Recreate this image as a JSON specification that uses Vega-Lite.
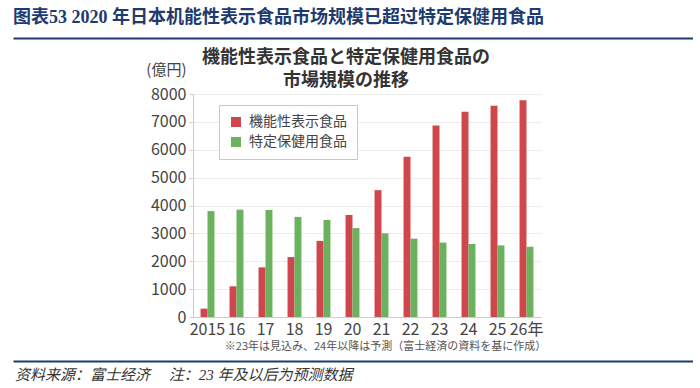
{
  "$schema": "https://vega.github.io/schema/vega-lite/v6.json",
  "background": "white",
  "padding": {"left": 10, "top": 8, "right": 0, "bottom": 0},
  "spacing": 7,
  "resolve": {"scale": {"color": "independent"}, "legend": {"color": "independent"}},
  "config": {"view": {"stroke": null}},
  "vconcat": [
    {
      "width": 680,
      "height": 1,
      "title": {
        "text": "图表53  2020 年日本机能性表示食品市场规模已超过特定保健用食品",
        "anchor": "start",
        "frame": "group",
        "dx": 0,
        "offset": -9,
        "baseline": "bottom",
        "fontSize": 18,
        "font": "Liberation Serif, Noto Sans CJK SC",
        "fontWeight": "bold",
        "color": "#1e3a6e"
      },
      "data": {"values": [{"v": 0}]},
      "mark": {"type": "point", "opacity": 0},
      "encoding": {
        "x": {
          "field": "v",
          "type": "quantitative",
          "scale": {"domain": [0, 1]},
          "axis": {
            "orient": "top",
            "domain": true,
            "domainColor": "#1e3a6e",
            "domainWidth": 2,
            "ticks": false,
            "labels": false,
            "grid": false,
            "title": null
          }
        }
      }
    },
    {
      "spacing": 0,
      "resolve": {"scale": {"color": "independent"}, "legend": {"color": "independent"}},
      "hconcat": [
        {
          "width": 132,
          "height": 1,
          "data": {"values": [{"v": 0}]},
          "mark": {"type": "point", "opacity": 0},
          "encoding": {}
        },
        {
          "width": 348,
          "height": 223,
          "title": {
            "text": ["機能性表示食品と特定保健用食品の", "市場規模の推移"],
            "anchor": "middle",
            "frame": "group",
            "dx": -21,
            "offset": -46,
            "baseline": "bottom",
            "fontSize": 18,
            "lineHeight": 23,
            "font": "Noto Sans CJK JP",
            "fontWeight": "bold",
            "color": "#333333"
          },
          "data": {
            "values": [
              {"year": "2015", "series": "機能性表示食品", "value": 300},
              {"year": "2015", "series": "特定保健用食品", "value": 3800},
              {"year": "16", "series": "機能性表示食品", "value": 1100},
              {"year": "16", "series": "特定保健用食品", "value": 3850},
              {"year": "17", "series": "機能性表示食品", "value": 1780},
              {"year": "17", "series": "特定保健用食品", "value": 3840},
              {"year": "18", "series": "機能性表示食品", "value": 2150},
              {"year": "18", "series": "特定保健用食品", "value": 3590},
              {"year": "19", "series": "機能性表示食品", "value": 2730},
              {"year": "19", "series": "特定保健用食品", "value": 3480},
              {"year": "20", "series": "機能性表示食品", "value": 3660},
              {"year": "20", "series": "特定保健用食品", "value": 3190},
              {"year": "21", "series": "機能性表示食品", "value": 4550},
              {"year": "21", "series": "特定保健用食品", "value": 3000},
              {"year": "22", "series": "機能性表示食品", "value": 5750},
              {"year": "22", "series": "特定保健用食品", "value": 2810},
              {"year": "23", "series": "機能性表示食品", "value": 6870},
              {"year": "23", "series": "特定保健用食品", "value": 2670},
              {"year": "24", "series": "機能性表示食品", "value": 7360},
              {"year": "24", "series": "特定保健用食品", "value": 2620},
              {"year": "25", "series": "機能性表示食品", "value": 7580},
              {"year": "25", "series": "特定保健用食品", "value": 2570},
              {"year": "26年", "series": "機能性表示食品", "value": 7780},
              {"year": "26年", "series": "特定保健用食品", "value": 2520}
            ]
          },
          "mark": {"type": "bar"},
          "encoding": {
            "x": {
              "field": "year",
              "type": "nominal",
              "sort": ["2015", "16", "17", "18", "19", "20", "21", "22", "23", "24", "25", "26年"],
              "scale": {"paddingInner": 0.52, "paddingOuter": 0.26},
              "axis": {
                "labelAngle": 0,
                "labelFontSize": 16,
                "labelFont": "Noto Sans CJK JP",
                "labelColor": "#444444",
                "labelPadding": 4,
                "ticks": false,
                "domain": true,
                "domainColor": "#cccccc",
                "title": "※23年は見込み、24年以降は予測（富士経済の資料を基に作成）",
                "titleFontSize": 11,
                "titleFontWeight": "normal",
                "titleColor": "#555555",
                "titleFont": "Noto Sans CJK JP",
                "titlePadding": 3,
                "titleX": 192,
                "titleAlign": "center"
              }
            },
            "xOffset": {
              "field": "series",
              "sort": ["機能性表示食品", "特定保健用食品"],
              "scale": {"paddingInner": 0, "paddingOuter": 0}
            },
            "y": {
              "field": "value",
              "type": "quantitative",
              "scale": {"domain": [0, 8000], "nice": false},
              "axis": {
                "values": [0, 1000, 2000, 3000, 4000, 5000, 6000, 7000, 8000],
                "format": "d",
                "labelFontSize": 16,
                "labelFont": "Noto Sans CJK JP",
                "labelColor": "#444444",
                "labelPadding": 3,
                "ticks": true,
                "tickSize": 4,
                "tickColor": "#cccccc",
                "domain": true,
                "domainColor": "#cccccc",
                "grid": true,
                "gridColor": "#ececec",
                "title": "(億円)",
                "titleAngle": 0,
                "titleAlign": "right",
                "titleBaseline": "middle",
                "titleX": -7,
                "titleY": -25,
                "titleFontSize": 15,
                "titleFontWeight": "normal",
                "titleFont": "Noto Sans CJK JP",
                "titleColor": "#444444"
              }
            },
            "color": {
              "field": "series",
              "type": "nominal",
              "sort": ["機能性表示食品", "特定保健用食品"],
              "scale": {"domain": ["機能性表示食品", "特定保健用食品"], "range": ["#cf474d", "#6bb25e"]},
              "legend": {
                "orient": "none",
                "legendX": 26,
                "legendY": 11,
                "title": null,
                "direction": "vertical",
                "fillColor": "white",
                "strokeColor": "#c8c8c8",
                "padding": 10,
                "symbolType": "square",
                "symbolSize": 100,
                "symbolStrokeWidth": 0,
                "labelFontSize": 14,
                "labelFont": "Noto Sans CJK JP",
                "labelColor": "#444444",
                "labelOffset": 6,
                "rowPadding": 6
              }
            }
          }
        }
      ]
    },
    {
      "width": 680,
      "height": 1,
      "data": {"values": [{"v": 0}]},
      "mark": {"type": "point", "opacity": 0},
      "encoding": {
        "x": {
          "field": "v",
          "type": "quantitative",
          "scale": {"domain": [0, 1]},
          "axis": {
            "orient": "top",
            "domain": true,
            "domainColor": "#1e3a6e",
            "domainWidth": 2,
            "ticks": false,
            "labels": false,
            "grid": false,
            "title": null
          }
        }
      },
      "title": {
        "text": "资料来源：富士经济\u3000   注：23 年及以后为预测数据",
        "orient": "bottom",
        "anchor": "start",
        "frame": "group",
        "dx": 2,
        "offset": 4,
        "baseline": "top",
        "fontSize": 15,
        "fontStyle": "italic",
        "fontWeight": "normal",
        "color": "#333333",
        "font": "Liberation Serif, Noto Sans CJK SC"
      }
    }
  ]
}
